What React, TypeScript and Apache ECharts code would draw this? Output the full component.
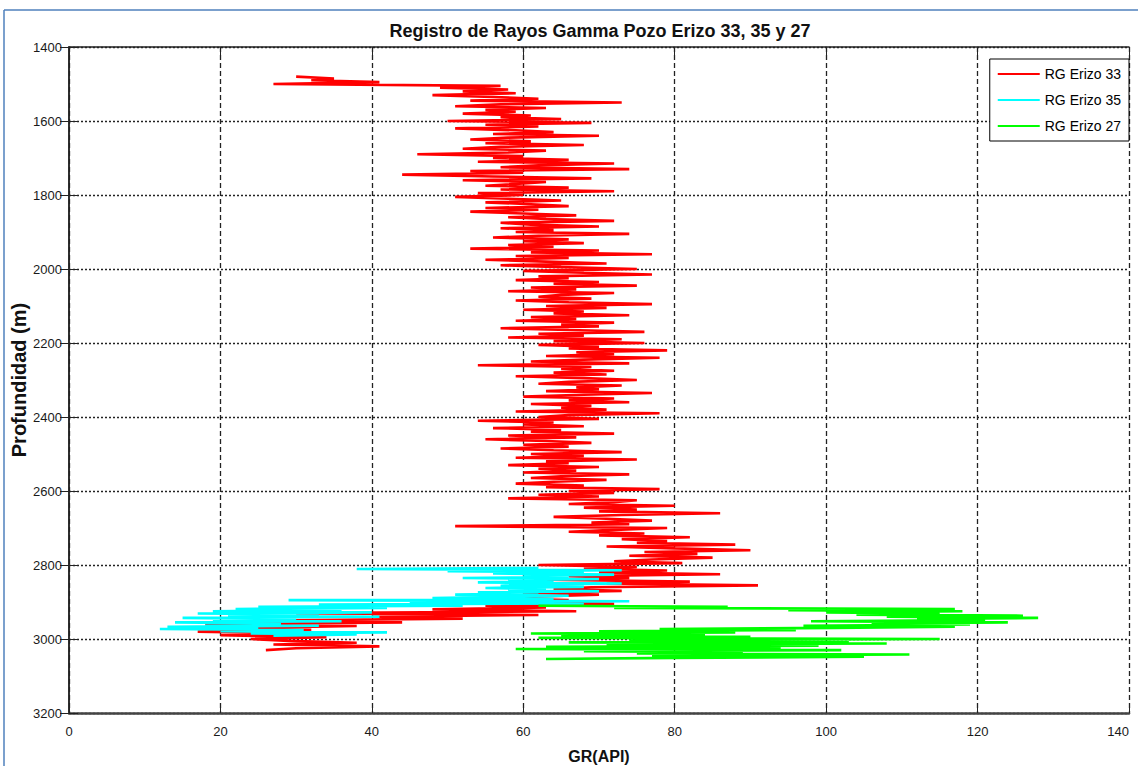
import React, { useEffect, useRef } from "react";
import * as echarts from "echarts";

// Axis ticks
const xTicks = [0, 20, 40, 60, 80, 100, 120, 140];
const yTicks = [1400, 1600, 1800, 2000, 2200, 2400, 2600, 2800, 3000, 3200];

const seriesNames = ["RG Erizo 33", "RG Erizo 35", "RG Erizo 27"];
const seriesColors = ["#ff0000", "#00ffff", "#00ff00"];

// RG Erizo 33: samples every 5 m starting at 1480 m
const erizo33Start = 1480;
const erizo33Step = 5;
const erizo33GR = [
  30, 35, 32, 41, 27, 57, 49, 58, 52, 59,
  48, 56, 62, 53, 73, 57, 51, 63, 55, 59,
  52, 61, 57, 65, 50, 69, 55, 62, 51, 59,
  64, 56, 70, 58, 53, 61, 55, 68, 57, 52,
  63, 58, 46, 60, 56, 66, 54, 72, 62, 57,
  74, 53, 60, 44, 56, 69, 52, 63, 59, 55,
  66, 57, 72, 54, 60, 51, 58, 65, 55, 61,
  66, 55, 62, 53, 60, 67, 58, 63, 72, 57,
  61, 70, 57, 64, 59, 74, 62, 56, 66, 60,
  68, 58, 64, 53, 70, 61, 77, 59, 66, 55,
  63, 71, 57, 65, 75, 60, 68, 77, 62, 66,
  59, 70, 64, 75, 61, 67, 58, 72, 65, 62,
  69, 59, 66, 77, 63, 71, 60, 68, 64, 74,
  61, 67, 59, 72, 65, 70, 57, 66, 76, 62,
  68, 58, 73, 64, 76, 62, 70, 66, 79, 67,
  72, 63, 78, 68, 61, 74, 54, 69, 65, 72,
  64, 71, 59, 68, 75, 66, 62, 73, 67, 70,
  63, 77, 68, 60, 72, 66, 74, 61, 69, 65,
  71, 59, 78, 66, 62, 70, 54, 64, 60, 68,
  56, 65, 61, 72, 58, 67, 55, 63, 69, 60,
  66, 57, 64, 73, 61, 68, 59, 75, 63, 66,
  58, 70, 62, 67, 60, 74, 65, 61, 71, 64,
  59, 68, 63, 78, 66, 72, 62, 70, 58, 75,
  72, 66, 80, 68, 75, 70, 86, 73, 64, 71,
  77, 69, 74, 51, 79, 72, 66, 76, 70, 82,
  73, 79, 75, 88, 71, 80, 90, 76, 83, 74,
  85, 77, 72, 81, 62, 75, 68, 79, 70, 86,
  66, 74, 63, 82, 71, 91, 69, 64, 73, 60,
  70, 62, 57, 66, 59, 72, 55, 63, 48, 67,
  30, 62, 40, 52, 26, 44, 18, 38, 22, 32,
  17, 30, 20, 34, 24, 29, 38, 27, 41, 30,
  26,
];

// RG Erizo 35: samples every 3 m starting at 2808 m
const erizo35Start = 2808;
const erizo35Step = 3;
const erizo35GR = [
  62, 38, 73, 50, 68, 56, 72, 60, 66, 52,
  70, 58, 64, 54, 73, 60, 57, 68, 55, 63,
  58, 70, 54, 62, 51, 66, 58, 48, 64, 29,
  74, 45, 68, 33, 52, 25, 42, 22, 36, 19,
  40, 17, 33, 21, 41, 15, 30, 19, 36, 14,
  28, 18, 33, 13, 25, 12, 31, 20, 42, 24,
  38, 27,
];

// RG Erizo 27: samples every 3 m starting at 2910 m
const erizo27Start = 2910;
const erizo27Step = 3;
const erizo27GR = [
  62, 87, 72, 117, 95, 118, 100, 115, 104, 126,
  108, 128, 112, 121, 98, 124, 106, 119, 97, 117,
  101, 78, 96, 70, 88, 61, 84, 65, 90, 62,
  115, 74, 103, 66, 108, 71, 99, 63, 94, 59,
  102, 68, 89, 75, 111, 77, 105, 80, 63,
];

function toPairs(values: number[], start: number, step: number) {
  return values.map((v, i) => [v, start + i * step]);
}

const font = "'Liberation Sans', Arial, sans-serif";

export default function App() {
  const ref = useRef<HTMLDivElement>(null);

  useEffect(() => {
    if (!ref.current) return;
    const chart = echarts.init(ref.current, undefined, { renderer: "svg" });
    const xMin = xTicks[0];
    const xMax = xTicks[xTicks.length - 1];
    const xStep = xTicks[1] - xTicks[0];
    const yMin = yTicks[0];
    const yMax = yTicks[yTicks.length - 1];
    const yStep = yTicks[1] - yTicks[0];

    const datasets = [
      toPairs(erizo33GR, erizo33Start, erizo33Step),
      toPairs(erizo35GR, erizo35Start, erizo35Step),
      toPairs(erizo27GR, erizo27Start, erizo27Step),
    ];

    const tick = { show: true, inside: true, length: 9, lineStyle: { color: "#222", width: 1 } };

    chart.setOption({
      animation: false,
      backgroundColor: "#ffffff",
      title: {
        text: "Registro de Rayos Gamma Pozo Erizo 33, 35 y 27",
        left: 595,
        textAlign: "center",
        top: 17,
        textStyle: { fontFamily: font, fontWeight: "bold", fontSize: 18, color: "#111" },
      },
      legend: {
        orient: "vertical",
        right: 9,
        top: 59,
        data: seriesNames.map((n, i) => ({ name: n, icon: "rect", itemStyle: { color: seriesColors[i] } })),
        itemWidth: 42,
        itemHeight: 2,
        itemGap: 12,
        padding: [8, 8, 8, 8],
        borderColor: "#000",
        borderWidth: 1,
        backgroundColor: "#fff",
        textStyle: { fontFamily: font, fontSize: 14, color: "#000" },
      },
      grid: { left: 69, right: 9, top: 47, bottom: 53, containLabel: false, outerBoundsMode: "none" },
      xAxis: [
        {
          type: "value",
          min: xMin,
          max: xMax,
          interval: xStep,
          position: "bottom",
          name: "GR(API)",
          nameLocation: "middle",
          nameGap: 35,
          nameMoveOverlap: false,
          nameTextStyle: { fontFamily: font, fontWeight: "bold", fontSize: 16, color: "#111" },
          axisLine: { show: true, lineStyle: { color: "#444", width: 2.5 } },
          axisTick: tick,
          axisLabel: { fontFamily: font, fontSize: 13, color: "#1a1a1a", margin: 12, alignMaxLabel: "right" },
          splitLine: { show: true, lineStyle: { color: "#222", width: 1.3, type: [5, 3] } },
        },
        {
          type: "value",
          min: xMin,
          max: xMax,
          interval: xStep,
          position: "top",
          axisLine: { show: true, lineStyle: { color: "#222", width: 1.5 } },
          axisTick: tick,
          axisLabel: { show: false },
          splitLine: { show: false },
        },
      ],
      yAxis: [
        {
          type: "value",
          min: yMin,
          max: yMax,
          interval: yStep,
          inverse: true,
          position: "left",
          name: "Profundidad (m)",
          nameLocation: "middle",
          nameGap: 40,
          nameMoveOverlap: false,
          nameTextStyle: { fontFamily: font, fontWeight: "bold", fontSize: 20, color: "#111" },
          axisLine: { show: true, lineStyle: { color: "#222", width: 1.5 } },
          axisTick: tick,
          axisLabel: {
            fontFamily: font,
            fontSize: 13,
            color: "#1a1a1a",
            margin: 7,
            formatter: (v: number) => String(v),
          },
          splitLine: { show: true, lineStyle: { color: "#222", width: 1.3, type: [2, 2] } },
        },
        {
          type: "value",
          min: yMin,
          max: yMax,
          interval: yStep,
          inverse: true,
          position: "right",
          axisLine: { show: true, lineStyle: { color: "#222", width: 1.5 } },
          axisTick: tick,
          axisLabel: { show: false },
          splitLine: { show: false },
        },
      ],
      graphic: [
        { type: "line", shape: { x1: 4, y1: 10, x2: 4, y2: 766 }, style: { stroke: "#4f81bd", lineWidth: 1.5 } },
        { type: "line", shape: { x1: 4, y1: 10, x2: 1138, y2: 10 }, style: { stroke: "#4f81bd", lineWidth: 1.5 } },
      ],
      series: seriesNames.map((name, i) => ({
        name,
        type: "line",
        xAxisIndex: 0,
        yAxisIndex: 0,
        data: datasets[i],
        showSymbol: false,
        symbol: "none",
        color: seriesColors[i],
        lineStyle: { color: seriesColors[i], width: 2.6 },
        z: 3 + i,
      })),
    });
    return () => chart.dispose();
  }, []);

  return (
    <div
      ref={ref}
      style={{ position: "fixed", left: 0, top: 0, width: 1138, height: 766, background: "#fff" }}
    />
  );
}
